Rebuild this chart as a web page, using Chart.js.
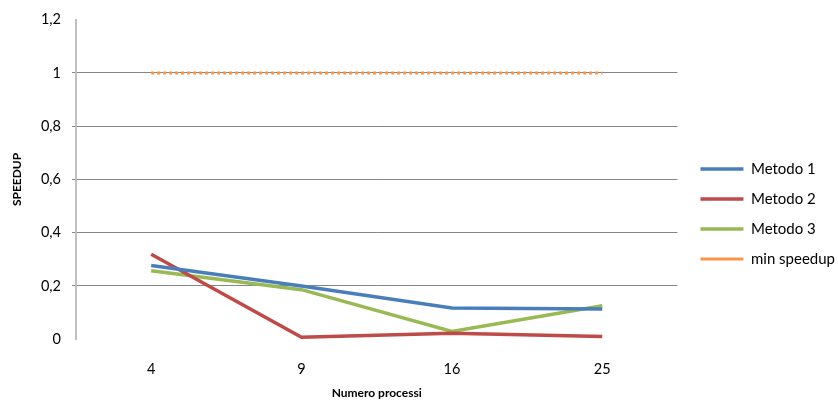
<!DOCTYPE html>
<html>
<head>
<meta charset="utf-8">
<script src="https://cdn.jsdelivr.net/npm/chart.js@4"></script>
<style>
  html, body { margin: 0; padding: 0; background: #fff; }
  #wrap { width: 838px; height: 406px; }
</style>
</head>
<body>
<div id="wrap"><canvas id="myChart"></canvas></div>
<script>
// data
var processi = ['4', '9', '16', '25'];
var metodo1 = [0.277, 0.200, 0.117, 0.113];
var metodo2 = [0.319, 0.007, 0.022, 0.010];
var metodo3 = [0.257, 0.186, 0.029, 0.126];
var minSpeedup = [1, 1, 1, 1];

var font = "Lato, 'Open Sans', sans-serif";

// nudge the legend a bit to the right, like the original
var legendShift = {
    id: 'legendShift',
    afterLayout: function (chart) {
        chart.legend.left += 8;
        chart.legend.right += 8;
    }
};

var ctx = document.getElementById('myChart').getContext('2d');
var chart = new Chart(ctx, {
    type: 'line',
    data: {
        labels: processi,
        datasets: [{
            label: 'Metodo 1',
            data: metodo1,
            borderColor: '#4A7EBB',
            backgroundColor: '#4A7EBB',
            borderWidth: 3.5
        }, {
            label: 'Metodo 2',
            data: metodo2,
            borderColor: '#BE4B48',
            backgroundColor: '#BE4B48',
            borderWidth: 3.5
        }, {
            label: 'Metodo 3',
            data: metodo3,
            borderColor: '#98B954',
            backgroundColor: '#98B954',
            borderWidth: 3.5
        }, {
            label: 'min speedup',
            data: minSpeedup,
            borderColor: '#F79646',
            backgroundColor: '#F79646',
            borderWidth: 3,
            borderDash: [3, 3]
        }]
    },
    plugins: [legendShift],
    options: {
        responsive: true,
        maintainAspectRatio: false,
        animation: false,
        elements: {
            point: { radius: 0, hoverRadius: 0 },
            line: { tension: 0 }
        },
        layout: { padding: { top: 16, right: 1, bottom: 6, left: 6 } },
        plugins: {
            tooltip: { enabled: false },
            legend: {
                position: 'right',
                title: { display: true, text: '', font: { size: 6, lineHeight: 1 }, padding: { top: 0, bottom: 6 } },
                labels: {
                    usePointStyle: true,
                    pointStyle: 'line',
                    pointStyleWidth: 43,
                    padding: 15,
                    color: '#000',
                    font: { family: font, size: 15 }
                }
            }
        },
        scales: {
            x: {
                offset: true,
                grid: { display: false, drawTicks: false },
                border: { display: false },
                ticks: { color: '#000', padding: 21, font: { family: font, size: 14.5 } },
                title: {
                    display: true,
                    text: 'Numero processi',
                    color: '#000',
                    padding: { top: -13, bottom: 0 },
                    font: { family: font, size: 12, weight: 'bold' }
                }
            },
            y: {
                min: 0,
                max: 1.2,
                afterFit: function (axis) { axis.width = 70; },
                grid: {
                    color: function (c) {
                        return (c.tick.value === 0 || c.tick.value === 1.2) ? 'rgba(0,0,0,0)' : '#868686';
                    },
                    tickLength: 4
                },
                border: { display: true, color: '#BFBFBF', width: 2 },
                ticks: {
                    stepSize: 0.2,
                    color: '#000',
                    padding: 11,
                    font: { family: font, size: 14.5 },
                    callback: function (v) {
                        return (Math.round(v * 10) / 10).toString().replace('.', ',');
                    }
                },
                title: {
                    display: true,
                    text: 'SPEEDUP',
                    color: '#000',
                    padding: { top: 4, bottom: 2 },
                    font: { family: font, size: 12, weight: 'bold' }
                }
            }
        }
    }
});
</script>
</body>
</html>
